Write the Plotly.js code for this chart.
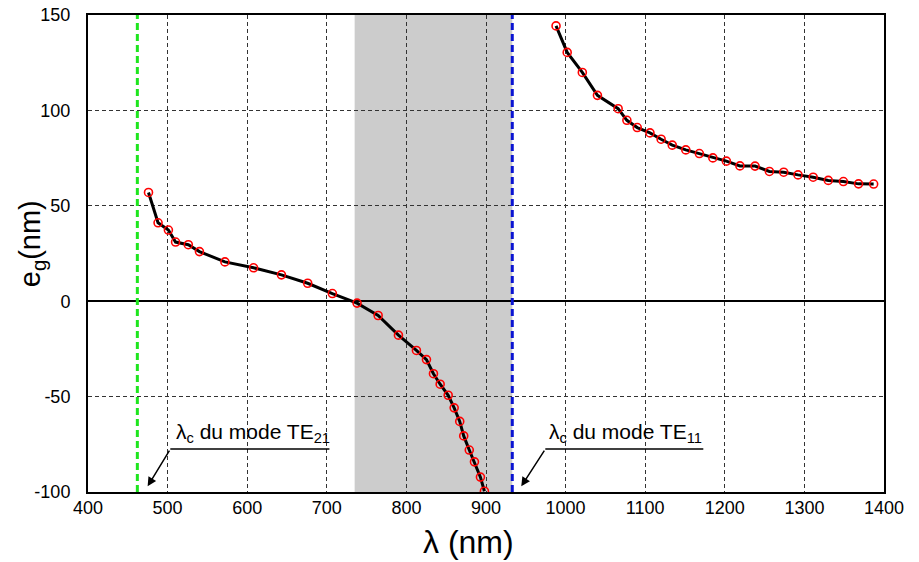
<!DOCTYPE html>
<html>
<head>
<meta charset="utf-8">
<script src="https://cdn.plot.ly/plotly-3.0.1.min.js"></script>
<style>html,body{margin:0;padding:0;background:#fff;}#chart{width:919px;height:562px;}</style>
</head>
<body>
<div id="chart"></div>
<script>
// Left branch (below TE11 cutoff)
const lambdaLeft = [476, 488, 501, 510, 526, 540, 572, 608, 643, 676, 707, 738, 764.5, 790, 812.6, 825.2, 834, 842.4, 852.5, 860, 867, 872, 879, 885.5, 893, 898];
const egLeft = [57.0, 41.1, 37.3, 31.0, 29.6, 26.0, 20.6, 17.5, 13.8, 9.4, 4.0, -1.0, -7.5, -17.8, -25.8, -30.6, -38.0, -43.5, -49.3, -55.9, -63.0, -70.6, -78.0, -84.2, -92.2, -99.6];
// Right branch (above TE11 cutoff)
const lambdaRight = [988, 1002, 1021, 1040, 1066, 1077, 1090, 1106, 1120, 1134, 1151, 1168, 1185, 1202, 1219, 1238, 1256, 1274, 1292, 1311, 1330, 1349, 1368, 1387];
const egRight = [144.3, 130.4, 119.9, 107.9, 100.9, 94.8, 91.0, 88.2, 84.9, 81.8, 79.3, 77.4, 75.1, 73.4, 70.9, 70.8, 68.0, 67.6, 66.2, 65.0, 63.3, 62.7, 61.5, 61.4];
// Cutoff wavelengths and shaded band
const cutoffTE21 = 462;
const cutoffTE11 = 933;
const bandStart = 735;
const labelTE21 = "λ<sub>c</sub> du mode TE<sub>21</sub>";
const labelTE11 = "λ<sub>c</sub> du mode TE<sub>11</sub>";
const xTitle = "λ (nm)";
const yTitle = "e<sub>g</sub>(nm)";
const xTicks = [400, 500, 600, 700, 800, 900, 1000, 1100, 1200, 1300, 1400];
const yTicks = [-100, -50, 0, 50, 100, 150];

const FONT = "Liberation Sans, Arial, sans-serif";

const lineStyle = {color: "black", width: 3};
const markerStyle = {symbol: "circle-open", size: 8, color: "#ff0000", line: {color: "#ff0000", width: 1.6}};

const traces = [
  {x: lambdaLeft, y: egLeft, mode: "lines+markers", line: lineStyle, marker: markerStyle, showlegend: false, hoverinfo: "skip"},
  {x: lambdaRight, y: egRight, mode: "lines+markers", line: lineStyle, marker: markerStyle, showlegend: false, hoverinfo: "skip"}
];

const layout = {
  width: 919, height: 562,
  margin: {l: 88, r: 35, t: 15, b: 70},
  paper_bgcolor: "white", plot_bgcolor: "white",
  font: {family: FONT, color: "black", size: 18},
  xaxis: {
    range: [400, 1400], tickvals: xTicks, ticktext: xTicks.map(String),
    showline: true, mirror: true, linecolor: "black", linewidth: 2,
    showgrid: true, gridcolor: "#333", gridwidth: 1, griddash: "4px,3px",
    zeroline: false, ticks: "", ticklabelstandoff: -2,
    tickfont: {size: 18, family: FONT},
    automargin: false
  },
  yaxis: {
    range: [-100, 150], tickvals: yTicks, ticktext: yTicks.map(String),
    showline: true, mirror: true, linecolor: "black", linewidth: 2,
    showgrid: true, gridcolor: "#333", gridwidth: 1, griddash: "4px,3px",
    zeroline: true, zerolinecolor: "black", zerolinewidth: 1.5,
    ticks: "", ticklabelstandoff: 12,
    tickfont: {size: 18, family: FONT},
    automargin: false
  },
  shapes: [
    {type: "rect", xref: "x", yref: "y", x0: bandStart, x1: cutoffTE11, y0: -100, y1: 150, fillcolor: "#cccccc", line: {width: 0}, layer: "below"},
    {type: "line", xref: "x", yref: "y", x0: cutoffTE21, x1: cutoffTE21, y0: -100, y1: 150, line: {color: "#1ee61e", width: 3, dash: "7px,4px"}},
    {type: "line", xref: "x", yref: "y", x0: cutoffTE11, x1: cutoffTE11, y0: -100, y1: 150, line: {color: "#0a14d2", width: 3, dash: "7px,4px"}},
    {type: "line", xref: "x", yref: "y", x0: 503.4, x1: 703.3, y0: -77.5, y1: -77.5, line: {color: "black", width: 1.5}},
    {type: "line", xref: "x", yref: "y", x0: 974.5, x1: 1173, y0: -77.5, y1: -77.5, line: {color: "black", width: 1.5}}
  ],
  annotations: [
    {x: 474.9, y: -97, ax: 503.4, ay: -77.5, axref: "x", ayref: "y", xref: "x", yref: "y", text: "", showarrow: true, arrowhead: 2, arrowsize: 1.2, arrowwidth: 1.5, arrowcolor: "black"},
    {x: 944.3, y: -97, ax: 974.5, ay: -77.5, axref: "x", ayref: "y", xref: "x", yref: "y", text: "", showarrow: true, arrowhead: 2, arrowsize: 1.2, arrowwidth: 1.5, arrowcolor: "black"},
    {x: 508, y: -77.5, xref: "x", yref: "y", xanchor: "left", yanchor: "bottom", yshift: 1, text: labelTE21, showarrow: false, font: {size: 21, family: FONT}},
    {x: 976.5, y: -77.5, xref: "x", yref: "y", xanchor: "left", yanchor: "bottom", yshift: 1, text: labelTE11, showarrow: false, font: {size: 21, family: FONT}},
    // x-axis title: centre at pixel (468, 542); plot spans columns 88..884, rows 15..492
    {x: (468 - 88) / 796, y: (492 - 542) / 477, xref: "paper", yref: "paper", yanchor: "middle", xanchor: "center", text: xTitle, showarrow: false, font: {size: 32, family: FONT}},
    {x: -0.07, y: 0.52, xref: "paper", yref: "paper", xanchor: "center", yanchor: "middle", textangle: -90, text: yTitle, showarrow: false, font: {size: 29, family: FONT}}
  ]
};

Plotly.newPlot("chart", traces, layout, {displayModeBar: false, staticPlot: true});
</script>
</body>
</html>
